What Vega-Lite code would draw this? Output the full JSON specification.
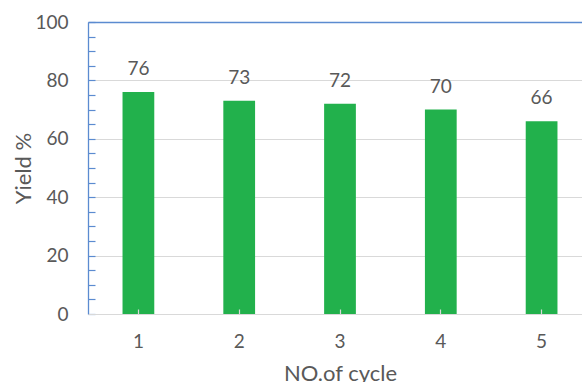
{
  "$schema": "https://vega.github.io/schema/vega-lite/v6.json",
  "autosize": "none",
  "padding": {"left": 88, "top": 22, "right": 0, "bottom": 68},
  "width": 494,
  "height": 292,
  "background": "white",
  "config": {
    "view": {"stroke": null},
    "font": "Lato"
  },
  "data": {
    "values": [
      {"cycle": "1", "yield": 76},
      {"cycle": "2", "yield": 73},
      {"cycle": "3", "yield": 72},
      {"cycle": "4", "yield": 70},
      {"cycle": "5", "yield": 66}
    ]
  },
  "encoding": {
    "x": {
      "field": "cycle",
      "type": "ordinal",
      "scale": {"range": [0, 504], "paddingInner": 0.685, "paddingOuter": 0.3425},
      "axis": {
        "title": "NO.of cycle",
        "titleFont": "Lato",
        "titleFontSize": 22,
        "titleFontWeight": "normal",
        "titleColor": "#595959",
        "titlePadding": 12,
        "labelAngle": 0,
        "labelFont": "Lato",
        "labelFontSize": 19,
        "labelColor": "#595959",
        "labelPadding": 23,
        "domainColor": "#d9d9d9",
        "domainWidth": 1.2,
        "tickColor": "#d9d9d9",
        "tickSize": -5,
        "tickWidth": 1.2,
        "zindex": 1,
        "grid": false
      }
    },
    "y": {
      "field": "yield",
      "type": "quantitative",
      "scale": {"domain": [0, 100], "nice": false},
      "axis": {
        "title": "Yield %",
        "titleFont": "Lato",
        "titleFontSize": 22,
        "titleFontWeight": "normal",
        "titleColor": "#595959",
        "titlePadding": -1,
        "values": [0, 5, 10, 15, 20, 25, 30, 35, 40, 45, 50, 55, 60, 65, 70, 75, 80, 85, 90, 95, 100],
        "labelExpr": "datum.value % 20 == 0 ? datum.label : ''",
        "labelFont": "Lato",
        "labelFontSize": 19,
        "labelColor": "#595959",
        "labelPadding": 27,
        "domainColor": "#5b8bd0",
        "domainWidth": 1.3,
        "tickColor": "#5b8bd0",
        "tickSize": -7,
        "tickWidth": 1.2,
        "grid": true,
        "gridColor": {"condition": {"test": "datum.value == 100", "value": "#5b8bd0"}, "value": "#d9d9d9"},
        "gridWidth": {"condition": {"test": "datum.value == 100", "value": 1.3}, "value": 1.2},
        "gridOpacity": {"condition": {"test": "datum.value % 20 == 0", "value": 1}, "value": 0},
        "zindex": 0
      }
    }
  },
  "layer": [
    {"mark": {"type": "bar", "color": "#22b14c"}},
    {
      "mark": {"type": "text", "baseline": "alphabetic", "dy": -17, "fontSize": 19, "font": "Lato", "color": "#595959"},
      "encoding": {"text": {"field": "yield", "type": "quantitative"}}
    }
  ]
}
